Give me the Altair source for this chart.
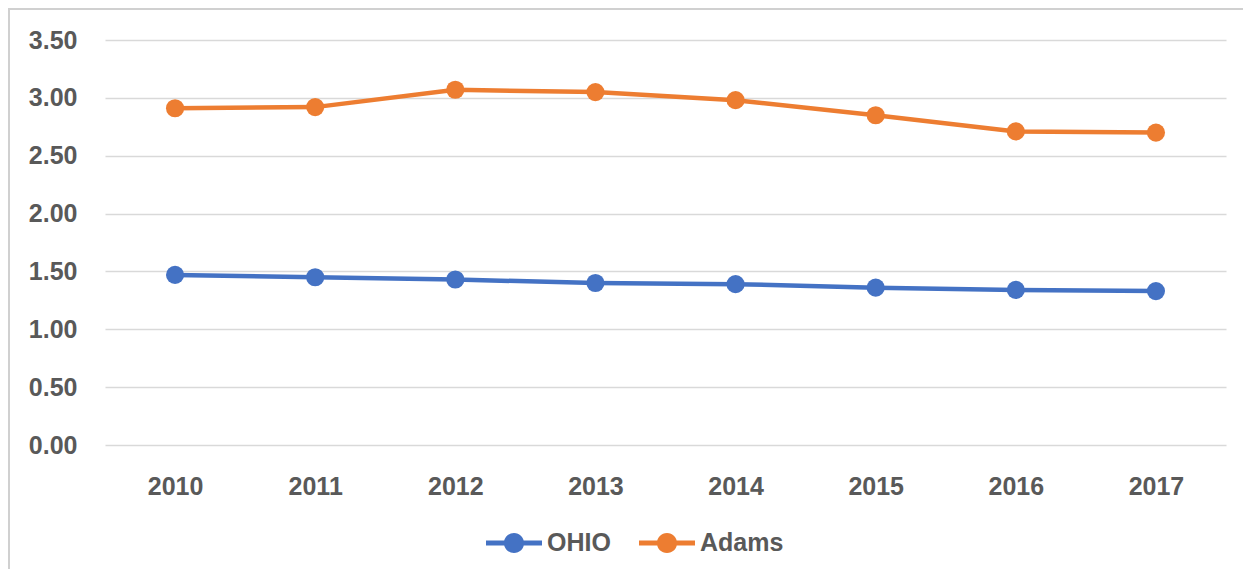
import altair as alt
import pandas as pd

years = ["2010", "2011", "2012", "2013", "2014", "2015", "2016", "2017"]
ohio = [1.47, 1.45, 1.43, 1.40, 1.39, 1.36, 1.34, 1.33]
adams = [2.91, 2.92, 3.07, 3.05, 2.98, 2.85, 2.71, 2.70]
series = ["OHIO", "Adams"]
colors = ["#4472C4", "#ED7D31"]
y_ticks = [0, 0.5, 1.0, 1.5, 2.0, 2.5, 3.0, 3.5]

rows = []
for y, v in zip(years, ohio):
    rows.append({"Year": y, "Series": "OHIO", "Value": v})
for y, v in zip(years, adams):
    rows.append({"Year": y, "Series": "Adams", "Value": v})
df = pd.DataFrame(rows)

FONT = "Liberation Sans"
TXT = "#595959"
FS = 25
legend_symbol = ("M-1,-0.09H1V0.09H-1Z "
                 "M0.36,0A0.36,0.36 0 1,1 -0.36,0A0.36,0.36 0 1,1 0.36,0Z")

x_enc = alt.X("Year:N", sort=years, scale=alt.Scale(paddingInner=0, paddingOuter=0),
              axis=alt.Axis(title=None, labelAngle=0, domain=False, ticks=False,
                            labelPadding=29, labelFont=FONT, labelFontSize=FS,
                            labelFontWeight="bold", labelColor=TXT, grid=False))
y_enc = alt.Y("Value:Q", scale=alt.Scale(domain=[0, 3.5], nice=False),
              axis=alt.Axis(title=None, values=y_ticks, format=".2f", domain=False,
                            ticks=False, labelPadding=28, labelFont=FONT,
                            labelFontSize=FS, labelFontWeight="bold", labelColor=TXT,
                            grid=True, gridColor="#d9d9d9", gridWidth=1.5))
color_enc = alt.Color("Series:N", sort=series,
                      scale=alt.Scale(domain=series, range=colors),
                      legend=alt.Legend(title=None, orient="none", direction="horizontal",
                                        legendX=381, legendY=475,
                                        symbolType=legend_symbol, symbolSize=3136,
                                        symbolStrokeWidth=0, symbolOpacity=1,
                                        labelFont=FONT, labelFontSize=FS,
                                        labelFontWeight="bold", labelColor=TXT,
                                        labelOffset=5, columnPadding=28,
                                        padding=0, offset=0))

base = alt.Chart(df)
lines = base.mark_line(strokeWidth=4.5).encode(x=x_enc, y=y_enc, color=color_enc)
points = base.mark_circle(size=330, opacity=1).encode(x=x_enc, y=y_enc, color=color_enc)

frame = alt.Chart(df).mark_rect(fill=None, fillOpacity=0, stroke="#d0d0d0",
                                strokeWidth=2, clip=False).encode(
    x=alt.value(-96), x2=alt.value(1200), y=alt.value(-31), y2=alt.value(600))

chart = alt.layer(frame, lines, points).properties(
    width=1121, height=405,
    autosize=alt.AutoSizeParams(type="none"),
    padding={"left": 97, "top": 32, "right": 17, "bottom": 124},
).configure(background="white").configure_view(stroke=None)

chart.save("out.html", embed_options={"renderer": "svg", "actions": False})
